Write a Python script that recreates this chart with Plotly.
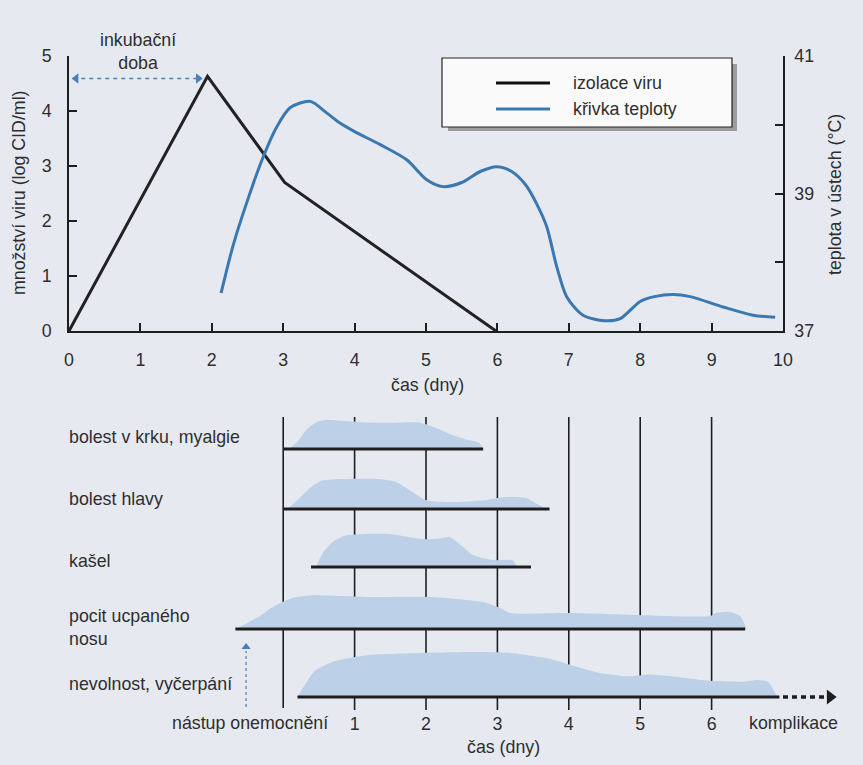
import plotly.graph_objects as go

# ---------------- data ----------------
# top chart: virus shedding (log CID/ml) and oral temperature (°C) vs. time (days)
virus_days = [0, 1.94, 3.02, 5.98]
virus_log = [0, 4.63, 2.70, 0]

temp_days = [2.13, 2.30, 2.50, 2.70, 2.90, 3.10, 3.38, 3.60, 3.80, 4.00,
             4.36, 4.73, 5.01, 5.24, 5.50, 5.76, 5.99, 6.20, 6.40, 6.55, 6.69, 6.83,
             6.97, 7.20, 7.50, 7.72, 8.00, 8.20, 8.46, 8.70, 9.16, 9.58, 9.89]
temp_c = [37.55, 38.25, 38.90, 39.48, 39.95, 40.25, 40.34, 40.18, 40.02, 39.90,
          39.71, 39.49, 39.20, 39.10, 39.16, 39.32, 39.39, 39.32, 39.12, 38.85, 38.52, 37.94,
          37.50, 37.23, 37.15, 37.18, 37.43, 37.50, 37.53, 37.50, 37.35, 37.23, 37.20]

top_x_ticks = list(range(0, 11))
left_ticks = [0, 1, 2, 3, 4, 5]
right_ticks = [37, 38, 39, 40, 41]
right_tick_text = ["37", "", "39", "", "41"]

# bottom chart: symptoms vs. days since onset
symptom_names = ["bolest v krku, myalgie", "bolest hlavy", "kašel",
                 "pocit ucpaného<br>nosu", "nevolnost, vyčerpání"]
symptom_start = [0.0, 0.0, 0.39, -0.67, 0.20]
symptom_end = [2.80, 3.73, 3.47, 6.47, 6.95]

krk_x = [0.08, 0.20, 0.35, 0.50, 0.65, 0.97, 1.20, 1.48, 1.90, 2.09, 2.37, 2.60, 2.75, 2.80]
krk_v = [0.00, 0.25, 0.70, 0.93, 0.97, 0.92, 0.88, 0.87, 0.88, 0.75, 0.47, 0.30, 0.20, 0.00]
hlava_x = [0.06, 0.20, 0.40, 0.55, 0.80, 1.34, 1.58, 1.81, 2.00, 2.28, 2.60, 2.84, 3.00, 3.17, 3.40, 3.63, 3.68]
hlava_v = [0.00, 0.30, 0.75, 0.95, 1.00, 1.00, 0.90, 0.57, 0.30, 0.23, 0.25, 0.30, 0.37, 0.40, 0.37, 0.07, 0.00]
kasel_x = [0.46, 0.55, 0.70, 0.88, 1.48, 1.95, 2.20, 2.33, 2.47, 2.66, 2.94, 3.21, 3.28]
kasel_v = [0.00, 0.45, 0.85, 1.05, 1.10, 0.93, 0.95, 1.00, 0.77, 0.40, 0.23, 0.23, 0.00]
nos_x = [-0.66, -0.35, -0.10, 0.15, 0.40, 1.14, 2.08, 2.80, 3.04, 3.18, 3.99, 4.94, 5.98, 6.06, 6.25, 6.40, 6.49]
nos_v = [0.00, 0.40, 0.80, 1.05, 1.12, 1.07, 1.07, 0.90, 0.70, 0.53, 0.53, 0.47, 0.43, 0.53, 0.57, 0.43, 0.00]
nevol_x = [0.20, 0.30, 0.44, 0.69, 1.19, 1.94, 2.69, 3.19, 3.70, 4.05, 4.44, 4.84, 5.14, 5.44, 5.94, 6.44, 6.64, 6.79, 6.90, 6.93]
nevol_v = [0.00, 0.40, 0.87, 1.17, 1.40, 1.47, 1.50, 1.47, 1.29, 1.05, 0.80, 0.69, 0.75, 0.69, 0.55, 0.51, 0.57, 0.51, 0.10, 0.00]

profiles_x = [krk_x, hlava_x, kasel_x, nos_x, nevol_x]
profiles_v = [krk_v, hlava_v, kasel_v, nos_v, nevol_v]

bottom_ticks = [1, 2, 3, 4, 5, 6]

# ---------------- layout helpers ----------------
W, H = 863, 765
def PX(x):
    return x / W
def PY(y):
    return 1 - y / H

FONT = "Liberation Sans, Arial, sans-serif"
TXT = "#2e2e2e"
BG = "#e6eaf0"
FILL = "#bcd1e7"
BLUE = "#3b78b0"
DASHBLUE = "#4a80b8"
FS = 17.8

row_base = [266, 206, 148, 86, 18]      # baseline of each symptom row (bottom axis units)
row_scale = 30                          # height units per intensity 1
label_y = [437, 499, 561, 627, 684]     # label centers in pixels

fig = go.Figure()

# ---------- top chart ----------
fig.add_trace(go.Scatter(x=virus_days, y=virus_log, mode="lines",
                         line=dict(color="#222222", width=3), xaxis="x", yaxis="y",
                         showlegend=False, hoverinfo="skip"))
fig.add_trace(go.Scatter(x=temp_days, y=temp_c, mode="lines",
                         line=dict(color=BLUE, width=3, shape="spline", smoothing=0.8),
                         xaxis="x", yaxis="y2", showlegend=False, hoverinfo="skip"))
# incubation arrow
inc_end = virus_days[1] - 0.09
fig.add_trace(go.Scatter(x=[0.06, inc_end], y=[4.59, 4.59], mode="lines",
                         line=dict(color=DASHBLUE, width=1.5, dash="4px,4px"),
                         xaxis="x", yaxis="y", showlegend=False, hoverinfo="skip"))
fig.add_trace(go.Scatter(x=[0.1, inc_end - 0.04], y=[4.59, 4.59], mode="markers",
                         marker=dict(symbol=["triangle-left", "triangle-right"], size=9,
                                     color=DASHBLUE),
                         xaxis="x", yaxis="y", showlegend=False, hoverinfo="skip"))

# ---------- bottom chart ----------
# vertical day lines
for d in [0] + bottom_ticks:
    y0 = 7 if d == 0 else 5
    fig.add_trace(go.Scatter(x=[d, d], y=[y0, 298], mode="lines",
                             line=dict(color="#1e1e1e", width=1.6),
                             xaxis="x2", yaxis="y3", showlegend=False, hoverinfo="skip"))

for i in range(5):
    base = row_base[i]
    xs = profiles_x[i]
    vs = profiles_v[i]
    fig.add_trace(go.Scatter(x=xs, y=[base] * len(xs), mode="lines",
                             line=dict(width=0, color=FILL), xaxis="x2", yaxis="y3",
                             showlegend=False, hoverinfo="skip"))
    fig.add_trace(go.Scatter(x=xs, y=[base + v * row_scale for v in vs], mode="lines",
                             line=dict(width=0, color=FILL, shape="spline", smoothing=0.6),
                             fill="tonexty", fillcolor=FILL,
                             xaxis="x2", yaxis="y3", showlegend=False, hoverinfo="skip"))
    fig.add_trace(go.Scatter(x=[symptom_start[i], symptom_end[i]], y=[base, base], mode="lines",
                             line=dict(color="#1e1e1e", width=3),
                             xaxis="x2", yaxis="y3", showlegend=False, hoverinfo="skip"))

# complication dotted arrow
fig.add_trace(go.Scatter(x=[symptom_end[4] + 0.05, 7.62], y=[row_base[4], row_base[4]], mode="lines",
                         line=dict(color="#1e1e1e", width=3.5, dash="5px,4px"),
                         xaxis="x2", yaxis="y3", showlegend=False, hoverinfo="skip"))
fig.add_trace(go.Scatter(x=[7.66], y=[row_base[4]], mode="markers",
                         marker=dict(symbol="triangle-right", size=13, color="#1e1e1e"),
                         xaxis="x2", yaxis="y3", showlegend=False, hoverinfo="skip"))
# onset arrow
fig.add_trace(go.Scatter(x=[-0.52, -0.52], y=[8, 64], mode="lines",
                         line=dict(color=DASHBLUE, width=1.2, dash="3px,3px"),
                         xaxis="x2", yaxis="y3", showlegend=False, hoverinfo="skip"))
fig.add_trace(go.Scatter(x=[-0.52], y=[68], mode="markers",
                         marker=dict(symbol="triangle-up", size=8, color=DASHBLUE),
                         xaxis="x2", yaxis="y3", showlegend=False, hoverinfo="skip"))

# ---------- legend (drawn) ----------
shapes = [
    dict(type="rect", xref="paper", yref="paper", x0=PX(448), x1=PX(737), y0=PY(131), y1=PY(64),
         fillcolor="#9c9c9c", line=dict(width=0), layer="above"),
    dict(type="rect", xref="paper", yref="paper", x0=PX(442), x1=PX(732), y0=PY(127), y1=PY(58),
         fillcolor="#fafafa", line=dict(color="#222222", width=1.2), layer="above"),
    dict(type="line", xref="paper", yref="paper", x0=PX(496), x1=PX(550), y0=PY(83), y1=PY(83),
         line=dict(color="#111111", width=3), layer="above"),
    dict(type="line", xref="paper", yref="paper", x0=PX(496), x1=PX(550), y0=PY(109), y1=PY(109),
         line=dict(color=BLUE, width=3), layer="above"),
]

def ann(text, x, y, xanchor="center", angle=0, size=FS):
    return dict(text=text, x=PX(x), y=PY(y), xref="paper", yref="paper", showarrow=False,
                xanchor=xanchor, yanchor="middle", textangle=angle,
                align="left" if xanchor == "left" else "center",
                font=dict(family=FONT, size=size, color=TXT))

annotations = [
    ann("izolace viru", 571, 83, "left"),
    ann("křivka teploty", 571, 109, "left"),
    ann("inkubační<br>doba", 138, 52),
    ann("množství viru (log CID/ml)", 19, 193, angle=-90),
    ann("teplota v ústech (°C)", 835, 195, angle=-90),
    ann("čas (dny)", 427, 385),
    ann("nástup onemocnění", 250, 723),
    ann("komplikace", 793, 723),
    ann("čas (dny)", 503, 747),
]
for i, name in enumerate(symptom_names):
    annotations.append(ann(name, 67, label_y[i], "left"))

axis_common = dict(showgrid=False, zeroline=False, showline=True, linecolor="#1e1e1e",
                   linewidth=1.5, ticks="inside", ticklen=8, tickwidth=1.5, tickcolor="#1e1e1e",
                   automargin=False,
                   tickfont=dict(family=FONT, size=FS, color=TXT))

fig.update_layout(
    template="none",
    width=W, height=H, autosize=False,
    margin=dict(l=0, r=0, t=0, b=0, pad=0),
    paper_bgcolor=BG, plot_bgcolor="rgba(0,0,0,0)",
    font=dict(family=FONT, size=FS, color=TXT),
    xaxis=dict(domain=[PX(69), PX(783)], range=[0, 10], anchor="y", tickvals=top_x_ticks,
               ticklabelstandoff=12, **axis_common),
    yaxis=dict(domain=[PY(331), PY(56)], range=[0, 5], anchor="x", tickvals=left_ticks,
               ticklabelstandoff=12, **axis_common),
    yaxis2=dict(overlaying="y", side="right", anchor="x", range=[37, 41],
                tickvals=right_ticks, ticktext=right_tick_text, ticklabelstandoff=6, **axis_common),
    xaxis2=dict(domain=[PX(69), PX(850)], range=[-3, -3 + 781 / 71.4], anchor="y3",
                tickvals=bottom_ticks, showgrid=False, zeroline=False, showline=False, ticks="",
                automargin=False, ticklabelstandoff=-4,
                tickfont=dict(family=FONT, size=FS, color=TXT)),
    yaxis3=dict(domain=[PY(715), PY(405)], range=[0, 310], anchor="x2", visible=False,
                automargin=False),
    shapes=shapes,
    annotations=annotations,
)

fig.write_html("out.html",
               config={"responsive": False, "displayModeBar": False},
               post_script="document.body.style.margin='0';document.body.style.overflow='hidden';"
                           "document.body.style.background='#e6eaf0';")
